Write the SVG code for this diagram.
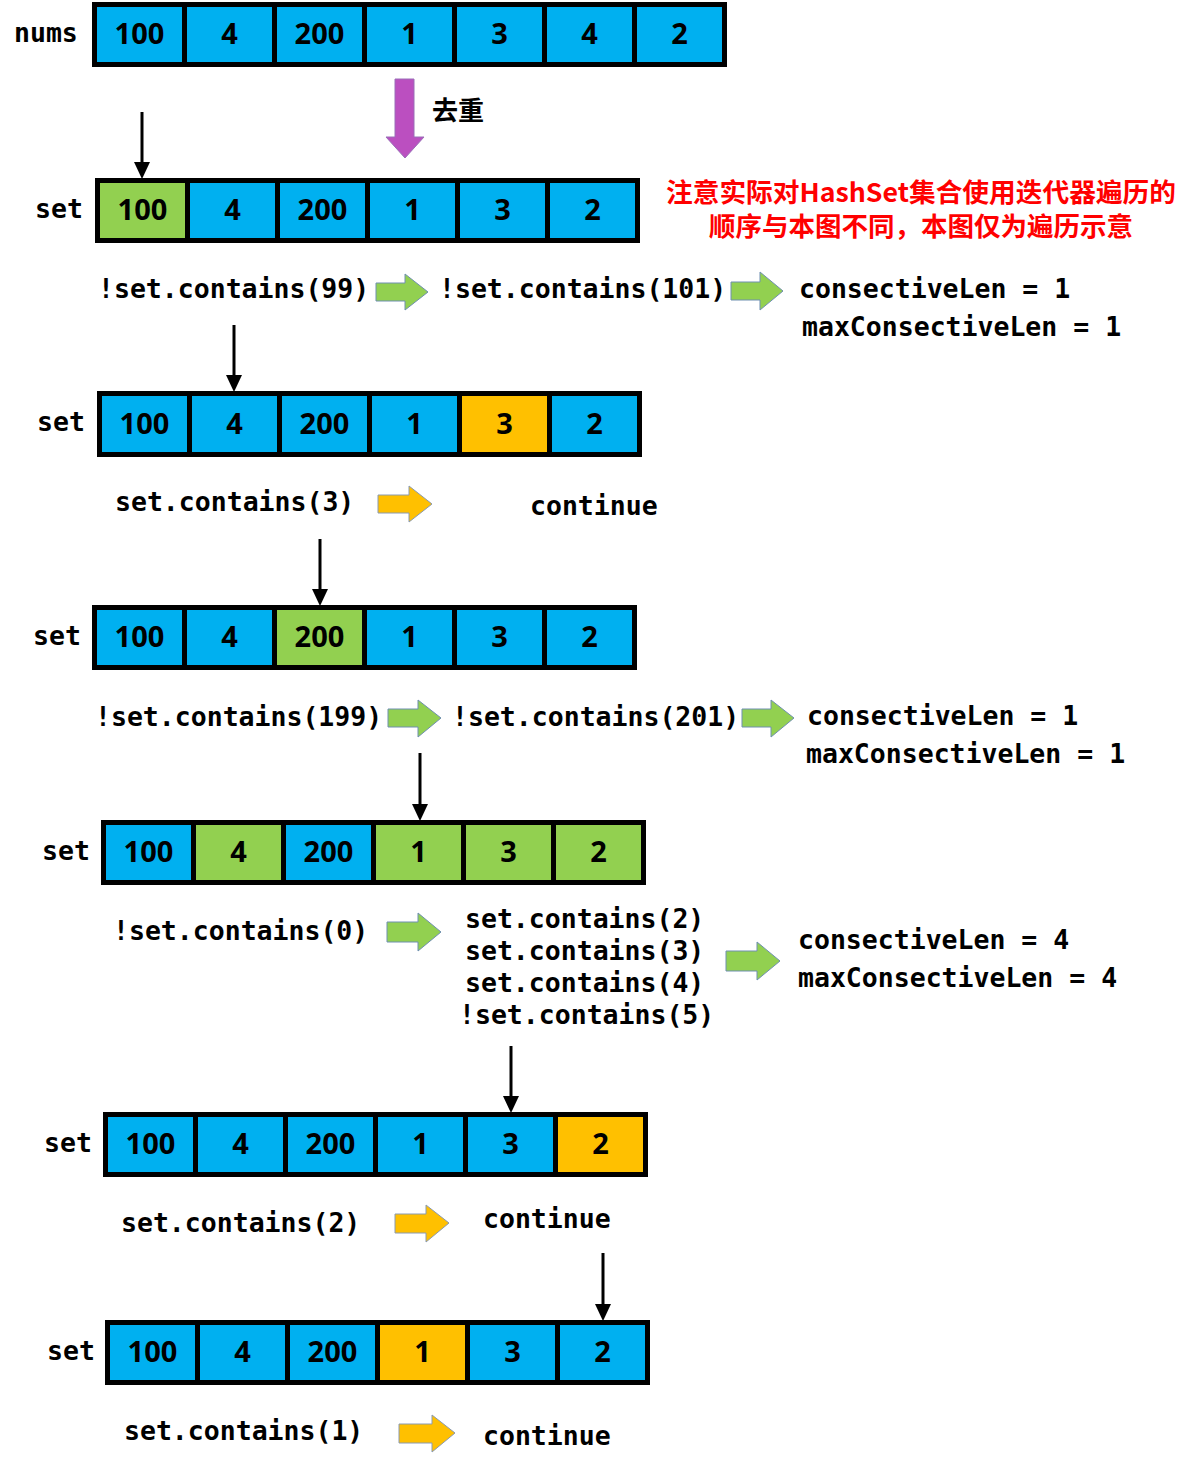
<svg xmlns="http://www.w3.org/2000/svg" width="1191" height="1468" viewBox="0 0 1191 1468">
  <style>
    .cell { stroke: #000; stroke-width: 5; }
    .blue { fill: #00B0F0; }
    .green { fill: #92D050; }
    .yellow { fill: #FFC000; }
    .num { font-family: "Noto Sans", "Liberation Sans", sans-serif; font-weight: bold; font-size: 29px; fill: #000; text-anchor: middle; }
    .code { font-family: "DejaVu Sans Mono", "Liberation Mono", monospace; font-weight: bold; font-size: 26.5px; fill: #000; }
    .note { font-family: "Noto Sans CJK SC", "Noto Sans", sans-serif; font-weight: bold; font-size: 26px; fill: #FF0000; text-anchor: middle; }
    .cjk { font-family: "Noto Sans CJK SC", "Noto Sans", sans-serif; font-weight: bold; font-size: 26px; fill: #000; }
    .ptr { stroke: #000; stroke-width: 3; fill: none; }
    .head { fill: #000; }
    .barrow-g { fill: #92D050; stroke: #6F8FB0; stroke-width: 1; }
    .barrow-y { fill: #FFC000; stroke: #8A9AB0; stroke-width: 1; }
  </style>
  <rect width="1191" height="1468" fill="#fff"/>

  <!-- original array -->
  <g id="nums">
    <text class="code" x="14" y="42">nums</text>
    <rect class="cell blue" x="94.5" y="4.5" width="90" height="60"/>
    <rect class="cell blue" x="184.5" y="4.5" width="90" height="60"/>
    <rect class="cell blue" x="274.5" y="4.5" width="90" height="60"/>
    <rect class="cell blue" x="364.5" y="4.5" width="90" height="60"/>
    <rect class="cell blue" x="454.5" y="4.5" width="90" height="60"/>
    <rect class="cell blue" x="544.5" y="4.5" width="90" height="60"/>
    <rect class="cell blue" x="634.5" y="4.5" width="90" height="60"/>
    <text class="num" x="139.5" y="44">100</text>
    <text class="num" x="229.5" y="44">4</text>
    <text class="num" x="319.5" y="44">200</text>
    <text class="num" x="409.5" y="44">1</text>
    <text class="num" x="499.5" y="44">3</text>
    <text class="num" x="589.5" y="44">4</text>
    <text class="num" x="679.5" y="44">2</text>
  </g>

  <!-- dedupe step -->
  <g id="dedupe">
    <polygon points="395,79 414,79 414,137 424,137 405,158 386,137 395,137" fill="#BB4FC0" stroke="#9A6FB8" stroke-width="1"/>
    <text class="cjk" x="432" y="120">去重</text>
  </g>

  <g id="note">
    <text class="note" x="921" y="202" textLength="510" lengthAdjust="spacingAndGlyphs">注意实际对HashSet集合使用迭代器遍历的</text>
    <text class="note" x="921" y="236" textLength="424" lengthAdjust="spacingAndGlyphs">顺序与本图不同，本图仅为遍历示意</text>
  </g>

  <!-- step 1: 100 -->
  <g id="set1">
    <text class="code" x="35" y="218">set</text>
    <rect class="cell green" x="97.5" y="180.5" width="90" height="60"/>
    <rect class="cell blue" x="187.5" y="180.5" width="90" height="60"/>
    <rect class="cell blue" x="277.5" y="180.5" width="90" height="60"/>
    <rect class="cell blue" x="367.5" y="180.5" width="90" height="60"/>
    <rect class="cell blue" x="457.5" y="180.5" width="90" height="60"/>
    <rect class="cell blue" x="547.5" y="180.5" width="90" height="60"/>
    <text class="num" x="142.5" y="220">100</text>
    <text class="num" x="232.5" y="220">4</text>
    <text class="num" x="322.5" y="220">200</text>
    <text class="num" x="412.5" y="220">1</text>
    <text class="num" x="502.5" y="220">3</text>
    <text class="num" x="592.5" y="220">2</text>
  </g>
  <g id="step1">
    <text class="code" x="98" y="298">!set.contains(99)</text>
    <text class="code" x="439" y="298">!set.contains(101)</text>
    <text class="code" x="799" y="298">consectiveLen = 1</text>
    <text class="code" x="802" y="336">maxConsectiveLen = 1</text>
  </g>

  <!-- step 2: 4 -->
  <g id="set2">
    <text class="code" x="37" y="431">set</text>
    <rect class="cell blue" x="99.5" y="393.5" width="90" height="61"/>
    <rect class="cell blue" x="189.5" y="393.5" width="90" height="61"/>
    <rect class="cell blue" x="279.5" y="393.5" width="90" height="61"/>
    <rect class="cell blue" x="369.5" y="393.5" width="90" height="61"/>
    <rect class="cell yellow" x="459.5" y="393.5" width="90" height="61"/>
    <rect class="cell blue" x="549.5" y="393.5" width="90" height="61"/>
    <text class="num" x="144.5" y="434">100</text>
    <text class="num" x="234.5" y="434">4</text>
    <text class="num" x="324.5" y="434">200</text>
    <text class="num" x="414.5" y="434">1</text>
    <text class="num" x="504.5" y="434">3</text>
    <text class="num" x="594.5" y="434">2</text>
  </g>
  <g id="step2">
    <text class="code" x="115" y="511">set.contains(3)</text>
    <text class="code" x="530" y="515">continue</text>
  </g>

  <!-- step 3: 200 -->
  <g id="set3">
    <text class="code" x="33" y="645">set</text>
    <rect class="cell blue" x="94.5" y="607.5" width="90" height="60"/>
    <rect class="cell blue" x="184.5" y="607.5" width="90" height="60"/>
    <rect class="cell green" x="274.5" y="607.5" width="90" height="60"/>
    <rect class="cell blue" x="364.5" y="607.5" width="90" height="60"/>
    <rect class="cell blue" x="454.5" y="607.5" width="90" height="60"/>
    <rect class="cell blue" x="544.5" y="607.5" width="90" height="60"/>
    <text class="num" x="139.5" y="647">100</text>
    <text class="num" x="229.5" y="647">4</text>
    <text class="num" x="319.5" y="647">200</text>
    <text class="num" x="409.5" y="647">1</text>
    <text class="num" x="499.5" y="647">3</text>
    <text class="num" x="589.5" y="647">2</text>
  </g>
  <g id="step3">
    <text class="code" x="95" y="726">!set.contains(199)</text>
    <text class="code" x="452" y="726">!set.contains(201)</text>
    <text class="code" x="807" y="725">consectiveLen = 1</text>
    <text class="code" x="806" y="763">maxConsectiveLen = 1</text>
  </g>

  <!-- step 4: 1 -->
  <g id="set4">
    <text class="code" x="42" y="860">set</text>
    <rect class="cell blue" x="103.5" y="822.5" width="90" height="60"/>
    <rect class="cell green" x="193.5" y="822.5" width="90" height="60"/>
    <rect class="cell blue" x="283.5" y="822.5" width="90" height="60"/>
    <rect class="cell green" x="373.5" y="822.5" width="90" height="60"/>
    <rect class="cell green" x="463.5" y="822.5" width="90" height="60"/>
    <rect class="cell green" x="553.5" y="822.5" width="90" height="60"/>
    <text class="num" x="148.5" y="862">100</text>
    <text class="num" x="238.5" y="862">4</text>
    <text class="num" x="328.5" y="862">200</text>
    <text class="num" x="418.5" y="862">1</text>
    <text class="num" x="508.5" y="862">3</text>
    <text class="num" x="598.5" y="862">2</text>
  </g>
  <g id="step4">
    <text class="code" x="113" y="940">!set.contains(0)</text>
    <text class="code" x="465" y="928">set.contains(2)</text>
    <text class="code" x="465" y="960">set.contains(3)</text>
    <text class="code" x="465" y="992">set.contains(4)</text>
    <text class="code" x="459" y="1024">!set.contains(5)</text>
    <text class="code" x="798" y="949">consectiveLen = 4</text>
    <text class="code" x="798" y="987">maxConsectiveLen = 4</text>
  </g>

  <!-- step 5: 3 -->
  <g id="set5">
    <text class="code" x="44" y="1152">set</text>
    <rect class="cell blue" x="105.5" y="1114.5" width="90" height="60"/>
    <rect class="cell blue" x="195.5" y="1114.5" width="90" height="60"/>
    <rect class="cell blue" x="285.5" y="1114.5" width="90" height="60"/>
    <rect class="cell blue" x="375.5" y="1114.5" width="90" height="60"/>
    <rect class="cell blue" x="465.5" y="1114.5" width="90" height="60"/>
    <rect class="cell yellow" x="555.5" y="1114.5" width="90" height="60"/>
    <text class="num" x="150.5" y="1154">100</text>
    <text class="num" x="240.5" y="1154">4</text>
    <text class="num" x="330.5" y="1154">200</text>
    <text class="num" x="420.5" y="1154">1</text>
    <text class="num" x="510.5" y="1154">3</text>
    <text class="num" x="600.5" y="1154">2</text>
  </g>
  <g id="step5">
    <text class="code" x="121" y="1232">set.contains(2)</text>
    <text class="code" x="483" y="1228">continue</text>
  </g>

  <!-- step 6: 2 -->
  <g id="set6">
    <text class="code" x="47" y="1360">set</text>
    <rect class="cell blue" x="107.5" y="1322.5" width="90" height="60"/>
    <rect class="cell blue" x="197.5" y="1322.5" width="90" height="60"/>
    <rect class="cell blue" x="287.5" y="1322.5" width="90" height="60"/>
    <rect class="cell yellow" x="377.5" y="1322.5" width="90" height="60"/>
    <rect class="cell blue" x="467.5" y="1322.5" width="90" height="60"/>
    <rect class="cell blue" x="557.5" y="1322.5" width="90" height="60"/>
    <text class="num" x="152.5" y="1362">100</text>
    <text class="num" x="242.5" y="1362">4</text>
    <text class="num" x="332.5" y="1362">200</text>
    <text class="num" x="422.5" y="1362">1</text>
    <text class="num" x="512.5" y="1362">3</text>
    <text class="num" x="602.5" y="1362">2</text>
  </g>
  <g id="step6">
    <text class="code" x="124" y="1440">set.contains(1)</text>
    <text class="code" x="483" y="1445">continue</text>
  </g>

  <!-- connectors: iteration pointers and flow arrows -->
  <g id="connectors">
    <line class="ptr" x1="142" y1="112" x2="142" y2="164"/>
    <polygon class="head" points="134,162 150,162 142,179"/>
    <line class="ptr" x1="234" y1="325" x2="234" y2="377"/>
    <polygon class="head" points="226,375 242,375 234,392"/>
    <line class="ptr" x1="320" y1="539" x2="320" y2="591"/>
    <polygon class="head" points="312,589 328,589 320,606"/>
    <line class="ptr" x1="420" y1="753" x2="420" y2="806"/>
    <polygon class="head" points="412,804 428,804 420,821"/>
    <line class="ptr" x1="511" y1="1046" x2="511" y2="1098"/>
    <polygon class="head" points="503,1096 519,1096 511,1113"/>
    <line class="ptr" x1="603" y1="1253" x2="603" y2="1306"/>
    <polygon class="head" points="595,1304 611,1304 603,1321"/>

    <polygon class="barrow-g" points="376,283 405,283 405,274 428,292 405,310 405,301 376,301"/>
    <polygon class="barrow-g" points="731,282 760,282 760,272 783,291 760,310 760,300 731,300"/>
    <polygon class="barrow-y" points="378,495 409,495 409,486 432,504 409,522 409,513 378,513"/>
    <polygon class="barrow-g" points="388,709 418,709 418,700 441,718 418,737 418,727 388,727"/>
    <polygon class="barrow-g" points="742,709 771,709 771,700 794,718 771,737 771,727 742,727"/>
    <polygon class="barrow-g" points="387,922 418,922 418,913 441,932 418,951 418,942 387,942"/>
    <polygon class="barrow-g" points="726,951 757,951 757,942 780,961 757,980 757,971 726,971"/>
    <polygon class="barrow-y" points="395,1214 426,1214 426,1205 449,1223 426,1242 426,1233 395,1233"/>
    <polygon class="barrow-y" points="399,1424 432,1424 432,1415 455,1433 432,1452 432,1443 399,1443"/>
  </g>
</svg>
